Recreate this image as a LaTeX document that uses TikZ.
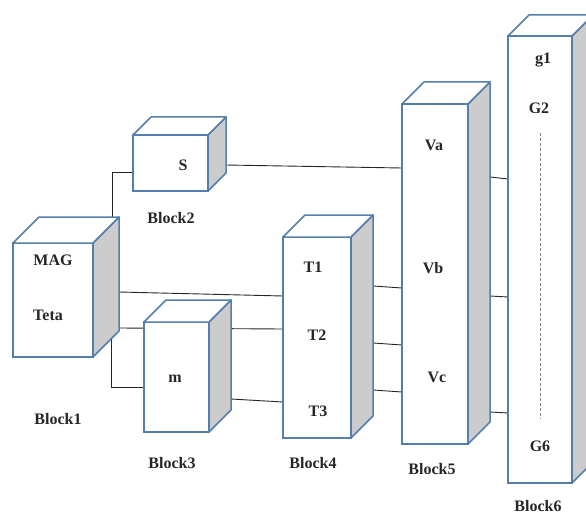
\documentclass[tikz,border=0pt]{standalone}
\usepackage{fontspec}
\setmainfont{Liberation Serif}
\usetikzlibrary{backgrounds}
\definecolor{edgeblue}{RGB}{84,126,171}
\definecolor{sidegray}{RGB}{204,204,204}
\tikzset{
  face/.style={draw=edgeblue, line width=1.5pt, fill=white, outer sep=0pt, inner sep=0pt},
  sideface/.style={draw=edgeblue, line width=1.5pt, fill=sidegray, line join=round},
  topface/.style={draw=edgeblue, line width=1.5pt, fill=white, line join=round},
  lbl/.style={font=\fontsize{16}{18}\selectfont\bfseries, inner sep=0pt, text=black!85},
  conn/.style={draw=black!85, line width=0.9pt},
  dots/.style={draw=gray, line width=0.9pt, dash pattern=on 3pt off 2pt}
}
\newcommand\cubebox[6]{%
  \node[face, minimum width=#4pt, minimum height=#5pt, anchor=north west] (#1) at (#2,#3) {};
  \coordinate (#1-bk) at ([shift={(#6pt,#6pt)}]#1.north east);
  \coordinate (#1-bkb) at ([shift={(#6pt,#6pt)}]#1.south east);
  \filldraw[sideface] (#1.north east) -- (#1-bk) -- (#1-bkb) -- (#1.south east) -- cycle;
  \filldraw[topface] (#1.north west) -- ([shift={(#6pt,#6pt)}]#1.north west) -- (#1-bk) -- (#1.north east) -- cycle;
}
\begin{document}
\begin{tikzpicture}[x=1pt, y=-1pt]
\useasboundingbox (0,0) rectangle (586,516);
\cubebox{b1}{13}{243}{80}{114}{26}
\cubebox{b2}{133}{135}{75}{56}{18}
\cubebox{b3}{144}{322}{65}{110}{22}
\cubebox{b4}{283}{237}{68}{201}{22}
\cubebox{b5}{402}{104}{66}{340}{22}
\cubebox{b6}{508}{36}{64}{447}{21}

\begin{pgfonlayer}{background}
  \draw[conn] ([xshift=-7pt]b1-bk) |- (b2.west |- 0,172);
  \draw[conn] (b1-bk |- 0,292) -- (b4.west |- 0,296);
  \draw[conn] (b1-bk |- 0,328) -- (b4.west |- 0,329);
  \draw[conn] ([shift={(-8pt,-8pt)}]b1-bkb) |- (b3.west |- 0,387);
  \draw[conn] (b3-bk |- 0,399) -- (b4.west |- 0,402);
  \draw[conn] (b2-bk |- 0,165) -- (b5.west |- 0,168);
  \draw[conn] (b4-bk |- 0,286) -- (b5.west |- 0,288);
  \draw[conn] (b4-bk |- 0,343) -- (b5.west |- 0,345);
  \draw[conn] (b4-bk |- 0,390) -- (b5.west |- 0,392);
  \draw[conn] (b5-bk |- 0,177) -- (b6.west |- 0,179);
  \draw[conn] (b5-bk |- 0,296) -- (b6.west |- 0,297);
  \draw[conn] (b5-bk |- 0,412) -- (b6.west |- 0,413);
\end{pgfonlayer}

\draw[dots] (b6.north |- 0,133) -- (b6.north |- 0,419);

\node[lbl] (tmag) at (53,260) {MAG};
\node[lbl] (tteta) at (48,315) {Teta};
\node[lbl] (ts) at (183,165) {S};
\node[lbl] (tm) at (175,379) {m};
\node[lbl] (tt1) at (313,267) {T1};
\node[lbl] (tt2) at (317,335) {T2};
\node[lbl] (tt3) at (318,411) {T3};
\node[lbl] (tva) at (434,145) {Va};
\node[lbl] (tvb) at (433,268) {Vb};
\node[lbl] (tvc) at (437,377) {Vc};
\node[lbl] (tg1) at (543,60) {g1};
\node[lbl] (tg2) at (539,108) {G2};
\node[lbl] (tg6) at (540,446) {G6};

\node[lbl] (l1) at (58,419) {Block1};
\node[lbl] (l2) at (171,218) {Block2};
\node[lbl] (l3) at (172,463) {Block3};
\node[lbl] (l4) at (313,463) {Block4};
\node[lbl] (l5) at (432,469) {Block5};
\node[lbl] (l6) at (538,506) {Block6};
\end{tikzpicture}
\end{document}
